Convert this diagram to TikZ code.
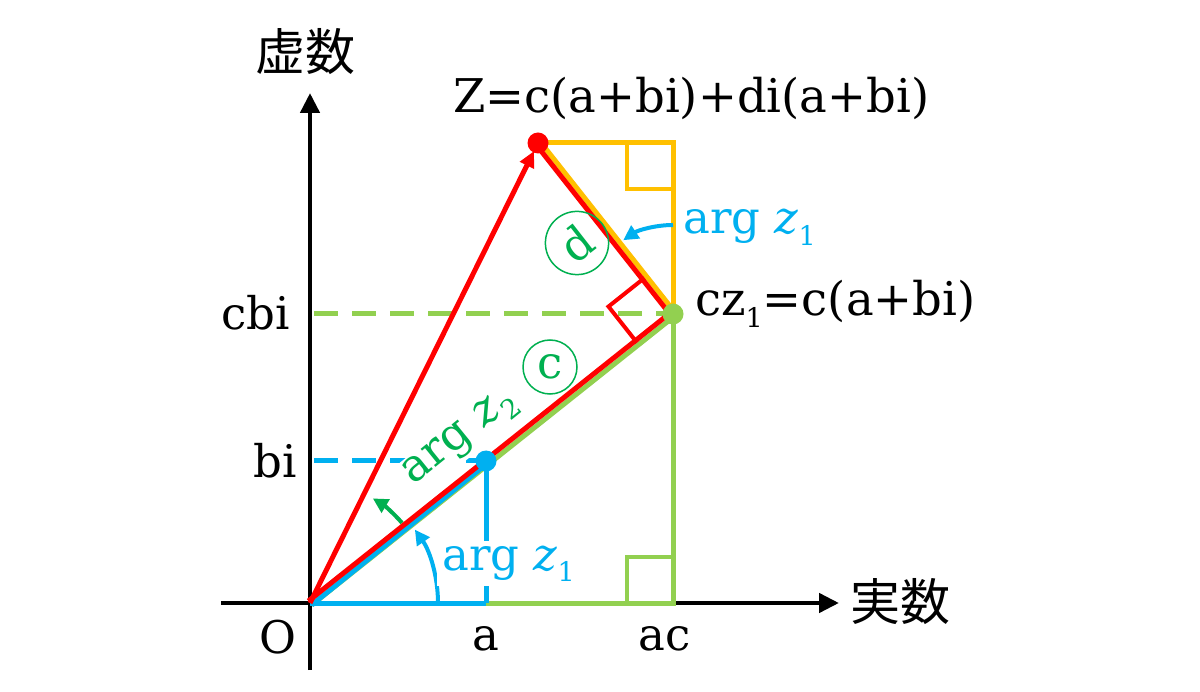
\documentclass[tikz,border=0pt]{standalone}
\usepackage{fontspec}
\setmainfont{DejaVu Serif}
\newfontfamily\jpfont{Noto Sans CJK JP}
\usetikzlibrary{arrows.meta,calc}
\definecolor{cred}{HTML}{FF0000}
\definecolor{cblue}{HTML}{00B0F0}
\definecolor{clgreen}{HTML}{92D050}
\definecolor{cdgreen}{HTML}{00B050}
\definecolor{corange}{HTML}{FFC000}
\newcommand\lowsub[1]{\raisebox{-0.25em}{\fontsize{27}{27}\selectfont #1}}
\tikzset{
  axisline/.style={line width=4.5pt, -{Triangle[length=20pt,width=19pt]}},
  gline/.style={clgreen, line width=5pt},
  bline/.style={cblue, line width=5pt},
  oline/.style={corange, line width=5pt},
  rline/.style={cred, line width=5pt},
  dashpat/.style={dash pattern=on 24pt off 14pt},
  sq/.style={line width=4pt},
  smallarrow/.style={line width=4pt, -{Triangle[length=15pt,width=15pt]}},
  dot/.style={circle, inner sep=0pt, minimum size=21pt},
  circled/.style={circle, draw=cdgreen, line width=1.5pt, minimum size=54pt, inner sep=0pt, text=cdgreen},
  lbl/.style={inner sep=0pt},
  biglbl/.style={inner sep=0pt, font=\fontsize{46.5}{54}\selectfont},
  jp/.style={font=\jpfont\fontsize{50}{50}\selectfont},
}
\begin{document}
\begin{tikzpicture}[x=1pt,y=-1pt, font=\fontsize{45}{54}\selectfont]
\useasboundingbox[fill=white] (0,0) rectangle (1200,692);
% key points
\coordinate (O) at (310,603);
\coordinate (XL) at (221,603);
\coordinate (XR) at (839,603);
\coordinate (YB) at (310,670);
\coordinate (YT) at (310,93);
\coordinate (A) at (486,603);
\coordinate (AC) at (673,603);
\coordinate (B) at (486,461);
\coordinate (C) at (673,314);
\coordinate (Z) at (538,143);
\coordinate (T) at (673,143);
\coordinate (BI) at (314,461);
\coordinate (CBI) at (314,314);
% axes
\draw[axisline] (XL) -- (XR);
\draw[axisline] (YB) -- (YT);
% green parts
\draw[gline, dashpat] (CBI) -- (C);
\draw[gline] ([shift={(1.6,2)}]O) -- ([shift={(1.6,2)}]C);
\draw[gline, line join=miter] (A) -- (AC) -- (C);
\draw[gline, sq] ($(AC)+(-46,0)$) -- ++(0,-46) -- ++(46,0);
% blue parts
\draw[bline, dashpat] (BI) -- (B);
\draw[bline] ([shift={(1.6,2)}]O) -- ([shift={(1.6,2)}]B);
\draw[bline] (O) -- (A);
\draw[bline] (A) -- (B);
\draw[cblue, smallarrow] ([shift={(0:128)}]O) arc[start angle=0, end angle=-35, radius=128];
\node[lbl, inner sep=5pt, fill=white, text=cblue, anchor=base west] (argA) at (437,570) {arg \textit{z}\lowsub{1}};
% green arc for arg z2
\draw[cdgreen, smallarrow] ([shift={(-41:122)}]O) arc[start angle=-41, end angle=-59, radius=122];
\node[lbl, inner sep=2pt, fill=white, text=cdgreen, rotate=39, anchor=base west] (argB) at (412,487) {arg \textit{z}\lowsub{2}};
% orange parts
\draw[oline] ([shift={(2,-1.5)}]C) -- ([shift={(2,-1.5)}]Z);
\draw[oline, line join=miter] (Z) -- (T) -- (C);
\draw[corange, sq] ($(T)+(-46,0)$) -- ++(0,46) -- ++(46,0);
% red parts
\draw[rline] ([shift={(-1.6,-2)}]O) -- ([shift={(-1.6,-2)}]C);
\draw[rline] ([shift={(-2,1.5)}]C) -- ([shift={(-2,1.5)}]Z);
\draw[rline, -{Triangle[length=16pt,width=15pt]}, shorten >=9pt] (O) -- (Z);
\coordinate (P1) at ($(C)!46pt!(O)$);
\coordinate (P2) at ($(C)!46pt!(Z)$);
\coordinate (P3) at ($(P1)+(P2)-(C)$);
\draw[cred, sq] (P1) -- (P3) -- (P2);
% blue arc at top
\draw[cblue, smallarrow] ([shift={(-90:89)}]C) arc[start angle=-90, end angle=-124, radius=89];
% dots
\node[dot, fill=cred] (Zd) at (Z) {};
\node[dot, fill=cblue] (Bd) at (B) {};
\node[dot, fill=clgreen] (Cd) at (C) {};
% circled letters
\node[circled] (cc) at (550,367) {c};
\node[circled] (cd) at (577,243) {\rotatebox{38}{d}};
% labels
\node[biglbl, anchor=base west] (zlab) at (453,113) {Z=c(a+bi)+di(a+bi)};
\node[biglbl, anchor=base west] (czlab) at (695,316) {cz\lowsub{1}=c(a+bi)};
\node[lbl, anchor=base west, text=cblue] (argC) at (683,234) {arg \textit{z}\lowsub{1}};
\node[lbl, anchor=base east] (cbilab) at (290,330) {cbi};
\node[lbl, anchor=base east] (bilab) at (297,478) {bi};
\node[lbl, anchor=base east] (olab) at (297,653) {O};
\node[lbl, anchor=base] (alab) at (486,650) {a};
\node[lbl, anchor=base] (aclab) at (665,650) {ac};
\node[jp] (imlab) at (305,52) {虚数};
\node[jp] (relab) at (900,602) {実数};
\end{tikzpicture}
\end{document}
